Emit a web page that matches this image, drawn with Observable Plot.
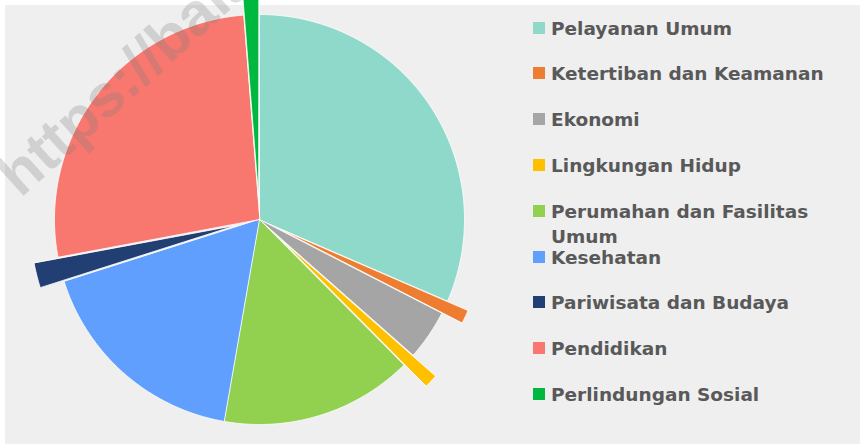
<!DOCTYPE html>
<html>
<head>
<meta charset="utf-8">
<script src="https://cdn.jsdelivr.net/npm/d3@7"></script>
<script src="https://cdn.jsdelivr.net/npm/@observablehq/plot@0.6"></script>
<style>
  html, body { margin: 0; padding: 0; background: #ffffff; }
  #wrap { position: relative; width: 860px; height: 444px; overflow: hidden; }
  #wrap svg { position: absolute; left: 0; top: 0; }
  .leg { position: absolute; left: 533px; font-family: "DejaVu Sans", sans-serif; font-weight: bold; font-size: 18.5px; color: #595959; line-height: 25px; white-space: nowrap; }
  .leg .sw { position: absolute; left: 0; top: 6px; width: 12px; height: 12px; }
  .leg .tx { position: absolute; left: 18px; top: 0; }
</style>
</head>
<body>
<div id="wrap"></div>
<script>
// ---- data ----
const categories = ["Pelayanan Umum", "Ketertiban dan Keamanan", "Ekonomi", "Lingkungan Hidup", "Perumahan dan Fasilitas Umum", "Kesehatan", "Pariwisata dan Budaya", "Pendidikan", "Perlindungan Sosial"];
const values = [31.5, 1.05, 3.95, 1.05, 15.2, 17.35, 1.95, 26.7, 1.25];
const legendLabels = ["Pelayanan Umum", "Ketertiban dan Keamanan", "Ekonomi", "Lingkungan Hidup", "Perumahan dan Fasilitas<br>Umum", "Kesehatan", "Pariwisata dan Budaya", "Pendidikan", "Perlindungan Sosial"];
const watermark = "https://balai";

// ---- styles / layout ----
const colors = ["#8fd9ca", "#ef7d31", "#a5a5a5", "#ffc000", "#92d050", "#619fff", "#223f73", "#f8776e", "#00b83f"];
const explode = [0, 0.11, 0, 0.15, 0, 0, 0.12, 0, 0.11];
const W = 860, H = 444, CX = 259, CY = 219, R = 205;
const px = x => (x - CX) / R;
const py = y => (CY - y) / R;

// build slice polygons from values
const total = d3.sum(values);
const rows = [];
let acc = 0;
values.forEach((v, i) => {
  const a0 = acc / total * 2 * Math.PI;
  const a1 = (acc + v) / total * 2 * Math.PI;
  acc += v;
  const mid = (a0 + a1) / 2;
  const ox = explode[i] * Math.sin(mid), oy = explode[i] * Math.cos(mid);
  const cat = categories[i];
  rows.push({cat, x: ox, y: oy});
  const n = Math.max(2, Math.ceil((a1 - a0) / (Math.PI / 360)));
  for (let k = 0; k <= n; k++) {
    const a = a0 + (a1 - a0) * k / n;
    rows.push({cat, x: ox + Math.sin(a), y: oy + Math.cos(a)});
  }
});

const chart = Plot.plot({
  width: W,
  height: H,
  margin: 0,
  x: {domain: [px(0), px(W)], axis: null},
  y: {domain: [py(H), py(0)], axis: null},
  color: {domain: categories, range: colors},
  style: {background: "transparent", overflow: "visible"},
  marks: [
    Plot.rect([0], {x1: px(5), x2: px(W), y1: py(5), y2: py(H), fill: "#efefef"}),
    Plot.line(rows, {x: "x", y: "y", z: "cat", fill: "cat", stroke: "white", strokeWidth: 0.8, curve: "linear-closed"}),
    Plot.text([watermark], {x: px(20), y: py(198), text: d => d, rotate: -42, textAnchor: "start", fontSize: 60, fontWeight: "bold", fontFamily: "Liberation Sans, Arial, sans-serif", fill: "#808080", fillOpacity: 0.28, lineAnchor: "bottom"})
  ]
});

const wrap = document.getElementById("wrap");
wrap.appendChild(chart);

legendLabels.forEach((lab, i) => {
  const d = document.createElement("div");
  d.className = "leg";
  d.style.top = (28 + i * 45.8 - 12.5) + "px";
  d.innerHTML = `<div class="sw" style="background:${colors[i]}"></div><div class="tx">${lab}</div>`;
  wrap.appendChild(d);
});
</script>
</body>
</html>
